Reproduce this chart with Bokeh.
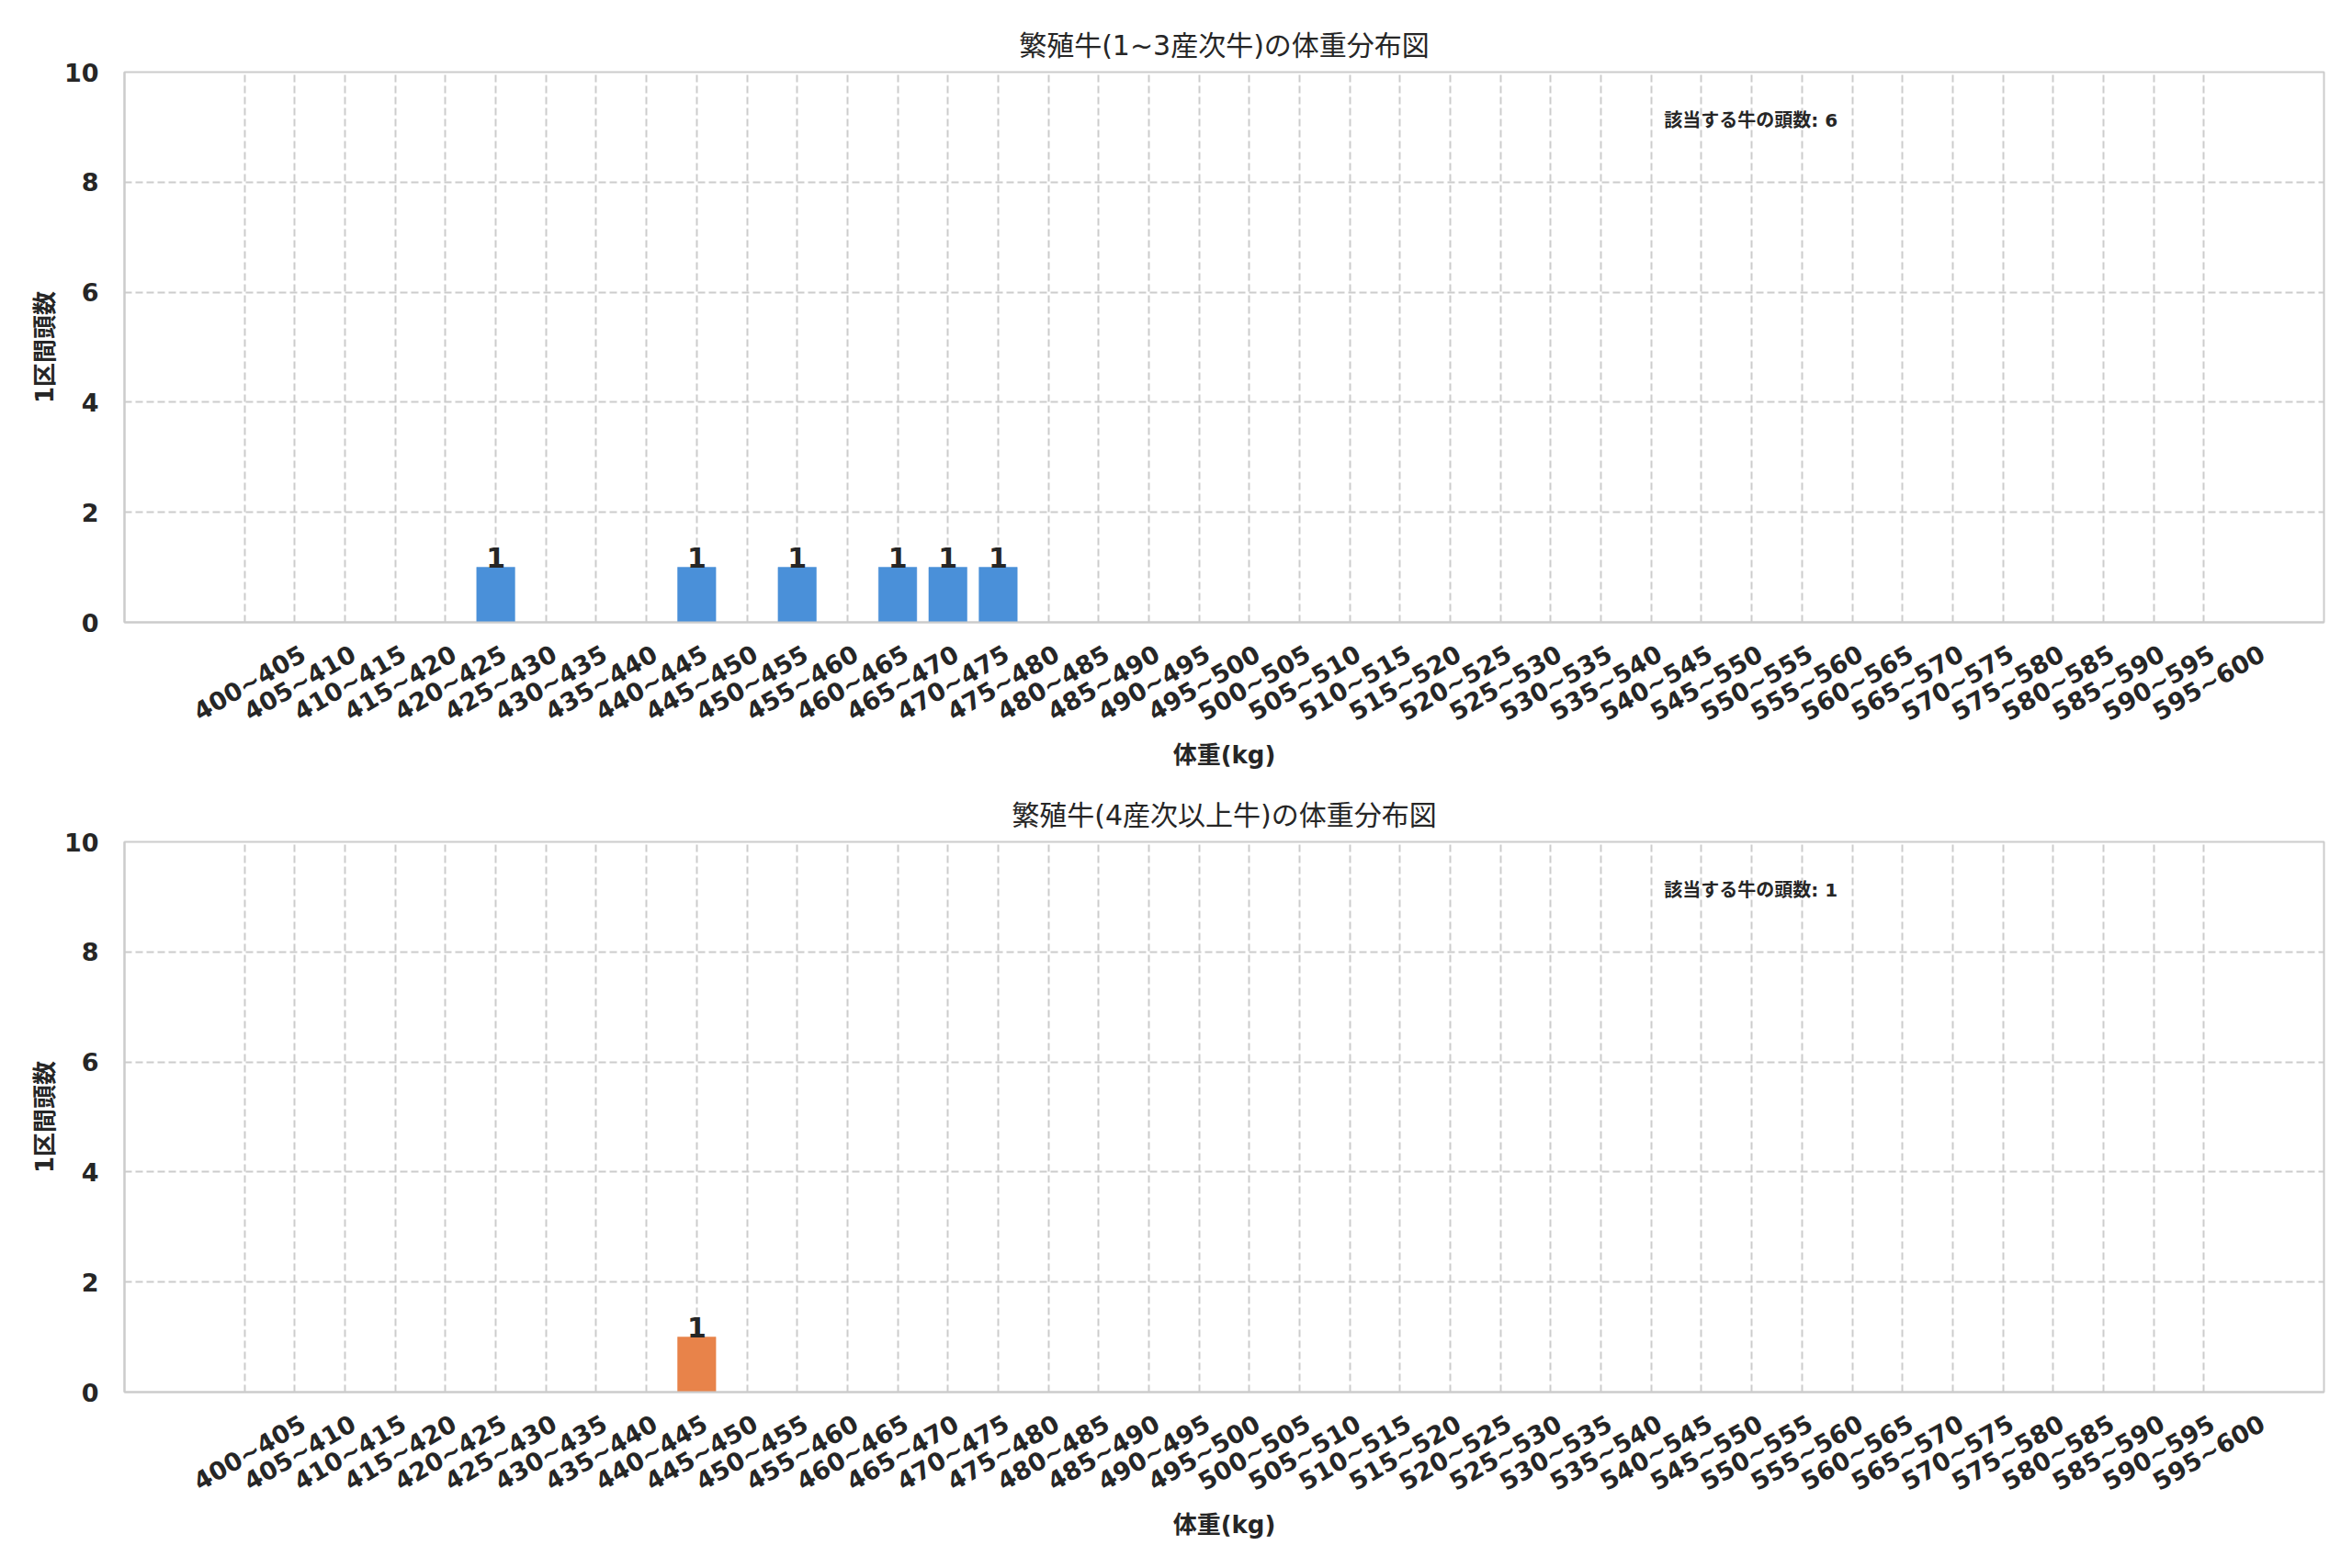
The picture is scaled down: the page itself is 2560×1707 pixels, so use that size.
import math
from bokeh.plotting import figure
from bokeh.layouts import column
from bokeh.models import ColumnDataSource, Range1d, FixedTicker, Label, CustomJSTickFormatter
from bokeh.embed import file_html
from bokeh.resources import INLINE
from bokeh.core.properties import value

# ---- data ----
bin_labels = ["400~405", "405~410", "410~415", "415~420", "420~425", "425~430",
              "430~435", "435~440", "440~445", "445~450", "450~455", "455~460",
              "460~465", "465~470", "470~475", "475~480", "480~485", "485~490",
              "490~495", "495~500", "500~505", "505~510", "510~515", "515~520",
              "520~525", "525~530", "530~535", "535~540", "540~545", "545~550",
              "550~555", "555~560", "560~565", "565~570", "570~575", "575~580",
              "580~585", "585~590", "590~595", "595~600"]
counts_parity_1_3 = [0, 0, 0, 0, 0, 1, 0, 0, 0, 1, 0, 1, 0, 1, 1, 1, 0, 0, 0, 0,
                     0, 0, 0, 0, 0, 0, 0, 0, 0, 0, 0, 0, 0, 0, 0, 0, 0, 0, 0, 0]
counts_parity_4plus = [0, 0, 0, 0, 0, 0, 0, 0, 0, 1, 0, 0, 0, 0, 0, 0, 0, 0, 0, 0,
                       0, 0, 0, 0, 0, 0, 0, 0, 0, 0, 0, 0, 0, 0, 0, 0, 0, 0, 0, 0]
titles = ["繁殖牛(1~3産次牛)の体重分布図", "繁殖牛(4産次以上牛)の体重分布図"]
colors = ["#4a90d9", "#e8834a"]
x_label = "体重(kg)"
y_label = "1区間頭数"
note_prefix = "該当する牛の頭数"
y_ticks = [0, 2, 4, 6, 8, 10]

FONT = "'DejaVu Sans', 'Noto Sans CJK JP'"
TXT = "#262626"
GRID = "#cccccc"

W = 2544
LABEL_SHIFT = 1.17  # moves rotated tick labels so that their centre sits on the bar


def make(counts, title, color, height, top_border, bottom_border):
    idx = list(range(len(bin_labels)))
    n = len(bin_labels)
    pad = 0.4 + 0.05 * (n - 1 + 0.8)
    x0, x1 = -pad, (n - 1) + pad
    p = figure(width=W, height=height, output_backend="svg", toolbar_location=None,
               x_range=Range1d(x0, x1), y_range=Range1d(0, 10),
               min_border_left=135, min_border_right=15,
               min_border_top=top_border, min_border_bottom=bottom_border)
    p.title.text = title
    p.title.align = "center"
    p.title.text_font = FONT
    p.title.text_font_size = "30px"
    p.title.text_font_style = "normal"
    p.title.text_color = TXT
    p.title.standoff = 23

    src = ColumnDataSource(dict(x=idx, top=counts))
    p.vbar(x="x", top="top", width=0.76, source=src, fill_color=color,
           line_color=color, line_width=1, line_alpha=0.5)

    nz = [i for i, c in enumerate(counts) if c > 0]
    lsrc = ColumnDataSource(dict(x=nz, y=[counts[i] for i in nz],
                                 t=[str(counts[i]) for i in nz]))
    p.text(x="x", y="y", text="t", source=lsrc, text_align="center",
           text_baseline="alphabetic", y_offset=-11,
           text_font=value(FONT), text_font_size="30px",
           text_font_style="bold", text_color=TXT)

    total = sum(counts)
    p.add_layout(Label(x=x0 + 0.7 * (x1 - x0), y=9.13,
                       text=f"{note_prefix}: {total}",
                       text_font=FONT, text_font_size="20px",
                       text_font_style="bold", text_color=TXT,
                       text_baseline="middle", text_align="left"))

    p.xaxis.ticker = FixedTicker(ticks=[i + LABEL_SHIFT for i in idx])
    p.xaxis.formatter = CustomJSTickFormatter(
        args=dict(labels=bin_labels, off=LABEL_SHIFT),
        code="return labels[Math.round(tick - off)];")
    p.xaxis.major_label_orientation = math.pi / 6
    p.yaxis.ticker = FixedTicker(ticks=y_ticks)
    p.xgrid.ticker = FixedTicker(ticks=idx)
    p.ygrid.ticker = FixedTicker(ticks=y_ticks)

    for ax in (p.xaxis[0], p.yaxis[0]):
        ax.major_tick_line_color = None
        ax.minor_tick_line_color = None
        ax.axis_line_color = GRID
        ax.axis_line_width = 2
        ax.major_label_text_font = FONT
        ax.major_label_text_font_size = "27px"
        ax.major_label_text_font_style = "bold"
        ax.major_label_text_color = TXT
        ax.axis_label_text_font = FONT
        ax.axis_label_text_font_size = "26px"
        ax.axis_label_text_font_style = "bold"
        ax.axis_label_text_color = TXT
    p.xaxis.axis_label = x_label
    p.yaxis.axis_label = y_label
    p.xaxis.major_label_standoff = 26
    p.yaxis.major_label_standoff = 22
    p.xaxis.axis_label_standoff = 0
    p.yaxis.axis_label_standoff = 3

    for g in (p.xgrid[0], p.ygrid[0]):
        g.grid_line_color = GRID
        g.grid_line_width = 2
        g.grid_line_dash = "8 4"
    p.outline_line_color = GRID
    p.outline_line_width = 2
    p.background_fill_color = "white"
    p.border_fill_color = "white"
    return p


p1 = make(counts_parity_1_3, titles[0], colors[0], 853, 78, 176)
p2 = make(counts_parity_4plus, titles[1], colors[1], 846, 63, 184)
layout = column(p1, p2, spacing=0)

open("out.html", "w").write(file_html(layout, INLINE))
